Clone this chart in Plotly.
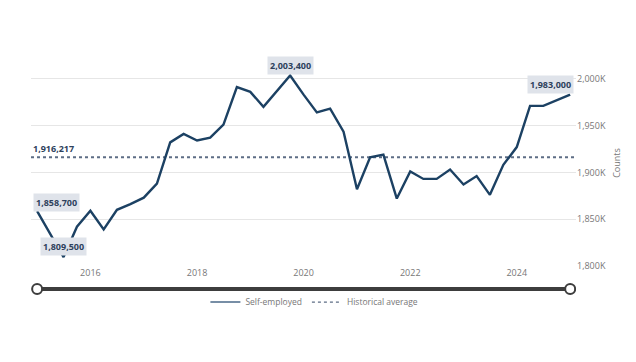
import pandas as pd
import plotly.graph_objects as go

dates = pd.date_range("2015-01-01", periods=41, freq="QS")
self_employed = [
    1858700, 1834000, 1809500, 1842000, 1859000, 1839000, 1860000, 1866000,
    1873000, 1888000, 1932000, 1941000, 1934000, 1937000, 1951000, 1991000,
    1986000, 1970000, 1987000, 2003400, 1983000, 1964000, 1968000, 1943500,
    1882000, 1916000, 1919000, 1872000, 1901000, 1893000, 1893000, 1903000,
    1887000, 1896000, 1876000, 1908000, 1927000, 1971000, 1971000, 1977000,
    1983000,
]
historical_average = 1916217
y_tickvals = [1800000, 1850000, 1900000, 1950000, 2000000]
y_ticktext = ["1,800K", "1,850K", "1,900K", "1,950K", "2,000K"]
x_tickvals = ["2016-01-01", "2018-01-01", "2020-01-01", "2022-01-01", "2024-01-01"]
x_ticktext = ["2016", "2018", "2020", "2022", "2024"]

LINE = "#1c4163"
AVG = "#5d6d85"
LABEL_BG = "#dfe3ea"
LABEL_FG = "#2e415c"
GREY = "#777777"
FONT = "Open Sans"

fig = go.Figure()
fig.add_trace(go.Scatter(x=dates, y=self_employed, mode="lines", name="Self-employed",
                         line=dict(color=LINE, width=2.4), showlegend=False))
# legend entries
fig.add_trace(go.Scatter(x=[None], y=[None], mode="lines", name="Self-employed",
                         line=dict(color="#4a6888", width=1.5)))
fig.add_trace(go.Scatter(x=[None], y=[None], mode="lines", name="Historical average",
                         line=dict(color=AVG, width=1.2, dash="dot")))

# average line
fig.add_shape(type="line", xref="paper", yref="y", x0=0.0, x1=1.0,
              y0=historical_average, y1=historical_average,
              line=dict(color=AVG, width=2, dash="dot"), layer="below")

# range navigator decoration
first, last = dates[0], dates[-1]
fig.add_shape(type="line", xref="x", yref="paper", x0=first, x1=last, y0=-0.112, y1=-0.112,
              line=dict(color="#3d3d3d", width=4))
for d in (first, last):
    fig.add_shape(type="circle", xref="x", yref="paper", xsizemode="pixel", ysizemode="pixel",
                  xanchor=d, yanchor=-0.112, x0=-5, x1=5, y0=-5, y1=5,
                  line=dict(color="#3d3d3d", width=2), fillcolor="white")

def label(x, y, text, xs, ys):
    fig.add_annotation(x=x, y=y, text=f"<b>{text}</b>", showarrow=False, xshift=xs, yshift=ys,
                       bgcolor=LABEL_BG, borderpad=2,
                       font=dict(family=FONT, size=9, color=LABEL_FG))

i_min = self_employed.index(min(self_employed))
i_max = self_employed.index(max(self_employed))
label(dates[0], self_employed[0], f"{self_employed[0]:,}", 19, 9)
label(dates[i_min], self_employed[i_min], f"{self_employed[i_min]:,}", 0, 11)
label(dates[i_max], self_employed[i_max], f"{self_employed[i_max]:,}", 0, 10)
label(dates[-1], self_employed[-1], f"{self_employed[-1]:,}", -20, 10)
fig.add_annotation(xref="paper", x=0, y=historical_average, text=f"<b>{historical_average:,}</b>",
                   showarrow=False, xanchor="left", yshift=9,
                   font=dict(family=FONT, size=9, color=LABEL_FG))

fig.update_layout(
    width=628, height=354,
    margin=dict(l=23, r=60, t=52, b=96),
    paper_bgcolor="white", plot_bgcolor="white",
    font=dict(family=FONT, color=GREY),
    showlegend=True,
    legend=dict(orientation="h", x=0.52, xanchor="center", y=-0.175, yanchor="middle",
                font=dict(size=8.5, color=GREY), bgcolor="rgba(0,0,0,0)"),
    xaxis=dict(range=["2014-11-20", "2025-02-10"], showgrid=False, zeroline=False,
               tickvals=x_tickvals, ticktext=x_ticktext, ticks="",
               tickfont=dict(size=9, color=GREY), showline=False),
    yaxis=dict(side="right", range=[1800000, 2020000], tickvals=y_tickvals, ticktext=y_ticktext,
               gridcolor="#e6e6e6", gridwidth=1, zeroline=False, showline=False,
               tickfont=dict(size=9, color=GREY),
               title=dict(text="Counts", font=dict(size=9, color=GREY), standoff=8)),
)

fig.write_html("out.html")
